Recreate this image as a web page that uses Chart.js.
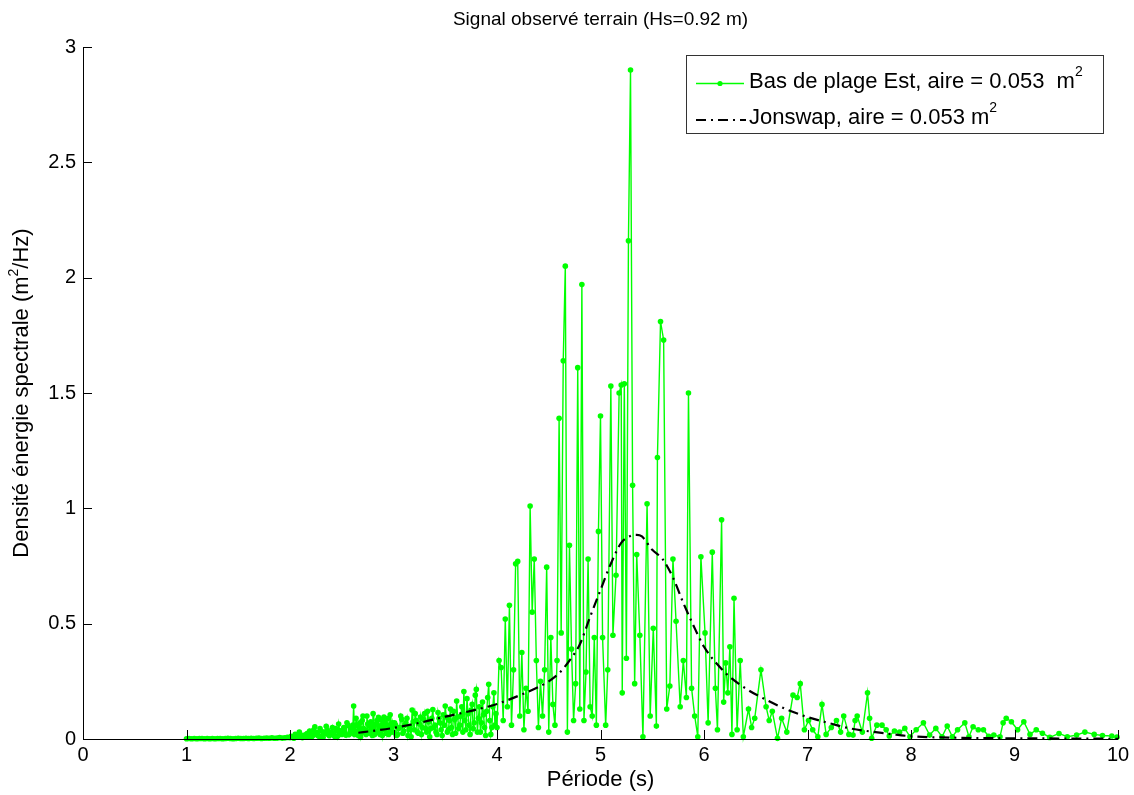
<!DOCTYPE html>
<html><head><meta charset="utf-8">
<script src="https://cdn.jsdelivr.net/npm/chart.js@4"></script>
<style>html,body{margin:0;padding:0;background:#fff}#wrap{width:1134px;height:795px;position:relative}</style>
</head><body><div id="wrap"><canvas id="c"></canvas></div>
<script>
const FONT = '"Liberation Sans", Arial, sans-serif';
const chartTitle = 'Signal observé terrain (Hs=0.92 m)';
const xAxisTitle = 'Période (s)';
const yAxisTitleParts = ['Densité énergie spectrale (m', '2', '/Hz)'];
const seriesNames = ['Bas de plage Est, aire = 0.053  m', 'Jonswap, aire = 0.053 m'];
const seriesSup = '2';
const xTickValues = [0,1,2,3,4,5,6,7,8,9,10];
const yTickValues = [0,0.5,1,1.5,2,2.5,3];

const obsPeriodA = [1.000,1.025,1.050,1.075,1.100,1.125,1.150,1.175,1.200,1.225,
  1.250,1.275,1.300,1.325,1.350,1.375,1.400,1.425,1.450,1.475,
  1.500,1.525,1.550,1.575,1.600,1.625,1.650,1.675,1.700,1.725,
  1.750,1.775,1.800,1.825,1.850,1.875,1.900,1.925,1.950,1.975];
const obsDensityA = [0.001,0.002,0.001,0.002,0.001,0.002,0.002,0.001,0.002,0.001,
  0.002,0.001,0.002,0.002,0.001,0.002,0.003,0.002,0.001,0.002,
  0.003,0.002,0.002,0.003,0.002,0.003,0.002,0.003,0.004,0.002,
  0.003,0.004,0.003,0.005,0.003,0.004,0.006,0.004,0.005,0.007];
const obsPeriodB = [2.00,2.02,2.04,2.06,2.08,2.10,2.12,2.14,2.16,2.18,
  2.20,2.22,2.24,2.26,2.28,2.30,2.32,2.34,2.36,2.38,
  2.40,2.42,2.44,2.46,2.48,2.50,2.52,2.54,2.56,2.58];
const obsDensityB = [0.006,0.010,0.004,0.014,0.008,0.018,0.006,0.012,0.022,0.009,
  0.022,0.015,0.053,0.028,0.012,0.035,0.008,0.024,0.040,0.014,
  0.030,0.018,0.045,0.012,0.036,0.020,0.050,0.016,0.060,0.025];
const obsPeriodB2 = [2.01,2.03,2.05,2.07,2.09,2.11,2.13,2.15,2.17,2.19,
  2.21,2.23,2.25,2.27,2.29,2.31,2.33,2.35,2.37,2.39,
  2.41,2.43,2.45,2.47,2.49,2.51,2.53,2.55,2.57,2.59];
const obsDensityB2 = [0.012,0.005,0.020,0.009,0.030,0.011,0.016,0.008,0.025,0.035,
  0.010,0.040,0.020,0.015,0.045,0.010,0.030,0.055,0.020,0.028,
  0.050,0.012,0.035,0.065,0.022,0.040,0.030,0.070,0.018,0.045];
const obsPeriodC = [2.600,2.615,2.630,2.645,2.660,2.675,2.690,2.705,2.720,2.735,
  2.750,2.765,2.780,2.795,2.810,2.825,2.840,2.855,2.870,2.885,
  2.900,2.915,2.930,2.945,2.960,2.975,2.990];
const obsDensityC = [0.040,0.143,0.030,0.060,0.015,0.070,0.025,0.100,0.040,0.020,
  0.065,0.030,0.075,0.015,0.050,0.035,0.080,0.094,0.020,0.060,
  0.040,0.075,0.025,0.089,0.045,0.030,0.070];
const obsPeriodC2 = [2.608,2.623,2.638,2.653,2.668,2.683,2.698,2.713,2.728,2.743,
  2.758,2.773,2.788,2.803,2.818,2.833,2.848,2.863,2.878,2.893,
  2.908,2.923,2.938,2.953,2.968,2.983];
const obsDensityC2 = [0.060,0.020,0.090,0.035,0.050,0.010,0.080,0.045,0.030,0.100,
  0.025,0.055,0.040,0.110,0.020,0.065,0.030,0.050,0.085,0.015,
  0.095,0.045,0.060,0.020,0.105,0.050];
const obsPeriodD = [3.00,3.02,3.04,3.06,3.08,3.10,3.12,3.14,3.16,3.18,
  3.20,3.22,3.24,3.26,3.28,3.30,3.32,3.34,3.36,3.38,
  3.40,3.42,3.44,3.46,3.48,3.50,3.52,3.54,3.56,3.58,
  3.60,3.62,3.64,3.66,3.68,3.70,3.72,3.74,3.76,3.78,
  3.80,3.82,3.84,3.86,3.88,3.90,3.92,3.94,3.96,3.98];
const obsDensityD = [0.030,0.060,0.020,0.050,0.085,0.035,0.070,0.015,0.055,0.126,
  0.040,0.080,0.025,0.095,0.050,0.110,0.030,0.075,0.045,0.128,
  0.060,0.020,0.090,0.040,0.105,0.143,0.030,0.080,0.050,0.120,
  0.025,0.095,0.060,0.140,0.206,0.040,0.110,0.020,0.150,0.070,
  0.215,0.090,0.030,0.160,0.050,0.120,0.237,0.020,0.140,0.060];
const obsPeriodD2 = [3.01,3.03,3.05,3.07,3.09,3.11,3.13,3.15,3.17,3.19,
  3.21,3.23,3.25,3.27,3.29,3.31,3.33,3.35,3.37,3.39,
  3.41,3.43,3.45,3.47,3.49,3.51,3.53,3.55,3.57,3.59,
  3.61,3.63,3.65,3.67,3.69,3.71,3.73,3.75,3.77,3.79,
  3.81,3.83,3.85,3.87,3.89,3.91,3.93,3.95,3.97,3.99];
const obsDensityD2 = [0.070,0.015,0.045,0.100,0.025,0.060,0.090,0.040,0.010,0.075,
  0.110,0.030,0.065,0.020,0.085,0.045,0.120,0.010,0.090,0.050,
  0.030,0.115,0.070,0.015,0.060,0.095,0.040,0.130,0.020,0.085,
  0.165,0.045,0.100,0.030,0.080,0.175,0.060,0.125,0.045,0.190,
  0.030,0.140,0.070,0.105,0.015,0.180,0.080,0.050,0.200,0.110];
const obsPeriodE = [4.00,4.02,4.04,4.06,4.08,4.10,4.12,4.14,4.16,4.18,
  4.20,4.22,4.24,4.26,4.28,4.30,4.32,4.34,4.36,4.38,
  4.40,4.42,4.44,4.46,4.48,4.50,4.52,4.54,4.56,4.58,
  4.60,4.62,4.64,4.66,4.68,4.70,4.72,4.74,4.76,4.78,
  4.80,4.82,4.84,4.86,4.88,4.90,4.92,4.94,4.96,4.98];
const obsDensityE = [0.05,0.34,0.31,0.08,0.52,0.14,0.58,0.06,0.30,0.76,
  0.77,0.10,0.375,0.04,0.22,0.12,1.01,0.55,0.78,0.34,
  0.05,0.25,0.10,0.30,0.745,0.03,0.44,0.15,0.06,0.34,
  1.39,0.46,1.64,2.05,0.03,0.84,0.39,0.08,0.24,1.61,
  0.13,1.97,0.08,0.29,0.78,0.14,0.10,0.44,0.06,0.90];
const obsPeriodF = [5.00,5.02,5.05,5.07,5.10,5.12,5.15,5.18,5.20,5.21,
  5.23,5.25,5.27,5.29,5.31,5.33,5.35,5.38,5.41,5.45,
  5.48,5.51,5.54,5.55,5.58,5.61,5.64,5.67,5.70,5.73,
  5.77,5.80,5.83,5.85,5.88,5.91,5.94,5.97];
const obsDensityF = [1.40,0.44,0.06,0.30,1.53,0.45,0.71,1.50,1.535,0.20,
  1.54,0.35,2.16,2.90,1.10,0.24,0.80,0.45,0.01,1.02,
  0.10,0.48,0.056,1.22,1.81,1.73,0.13,0.23,0.78,0.51,
  0.14,0.34,0.18,1.50,0.22,0.10,0.01,0.79];
const obsPeriodG = [6.01,6.04,6.08,6.11,6.13,6.17,6.19,6.21,6.23,6.25,
  6.27,6.29,6.32,6.35,6.38,6.43,6.46,6.49,6.55,6.60,
  6.63,6.66,6.71,6.75,6.80,6.86,6.90,6.93,6.97];
const obsDensityG = [0.46,0.07,0.81,0.22,0.04,0.95,0.16,0.33,0.20,0.40,
  0.02,0.61,0.04,0.34,0.01,0.13,0.05,0.09,0.30,0.14,
  0.08,0.12,0.003,0.09,0.03,0.19,0.18,0.24,0.04];
const obsPeriodH = [7.01,7.05,7.10,7.14,7.18,7.23,7.28,7.32,7.35,7.40,
  7.44,7.46,7.48,7.53,7.58,7.60,7.62,7.67,7.72,7.76,
  7.79,7.84,7.89,7.94,7.99];
const obsDensityH = [0.08,0.04,0.01,0.15,0.02,0.05,0.08,0.03,0.10,0.02,
  0.017,0.08,0.10,0.03,0.20,0.09,0.003,0.06,0.06,0.04,
  0.013,0.035,0.03,0.046,0.01];
const obsPeriodI = [8.05,8.12,8.18,8.24,8.30,8.35,8.40,8.45,8.52,8.56,
  8.60,8.65,8.70,8.75,8.80,8.86,8.89,8.92,8.97,9.03,
  9.09,9.15,9.21,9.27,9.34,9.43,9.51,9.60,9.68,9.77,
  9.85,9.94,9.99];
const obsDensityI = [0.04,0.07,0.017,0.046,0.01,0.056,0.01,0.04,0.07,0.01,
  0.053,0.04,0.04,0.012,0.017,0.01,0.07,0.09,0.075,0.04,
  0.075,0.02,0.04,0.025,0.007,0.024,0.01,0.017,0.03,0.02,
  0.015,0.013,0.008];

// JONSWAP fit
const jonswapPeriod = [2.66,2.8,3.0,3.25,3.5,3.75,4.0,4.25,4.4,4.5,
  4.6,4.7,4.8,4.9,5.0,5.1,5.2,5.3,5.35,5.4,
  5.5,5.6,5.7,5.8,5.9,6.0,6.2,6.4,6.6,6.8,
  7.0,7.2,7.4,7.6,7.8,8.0,8.5,9.0,9.5,10.0];
const jonswapDensity = [0.027,0.035,0.048,0.07,0.097,0.122,0.152,0.195,0.225,0.25,
  0.285,0.34,0.41,0.53,0.646,0.76,0.85,0.882,0.885,0.878,
  0.82,0.78,0.70,0.59,0.49,0.40,0.29,0.22,0.17,0.128,
  0.095,0.07,0.047,0.033,0.022,0.012,0.005,0.003,0.002,0.001];

const obsPeriod = [].concat(obsPeriodA,obsPeriodB,obsPeriodB2,obsPeriodC,obsPeriodC2,obsPeriodD,obsPeriodD2,obsPeriodE,obsPeriodF,obsPeriodG,obsPeriodH,obsPeriodI);
const obsDensity = [].concat(obsDensityA,obsDensityB,obsDensityB2,obsDensityC,obsDensityC2,obsDensityD,obsDensityD2,obsDensityE,obsDensityF,obsDensityG,obsDensityH,obsDensityI);
const obsPoints = obsPeriod.map((t,i)=>({x:t,y:obsDensity[i]})).sort((p,q)=>p.x-q.x);
const jonPoints = jonswapPeriod.map((t,i)=>({x:t,y:jonswapDensity[i]}));

const GREEN = '#00ff00';

function drawSup(ctx, parts, x, y, bigFont, smallFont, rise){
  let cx = x;
  parts.forEach((p,i)=>{
    const isSup = i % 2 === 1;
    ctx.font = isSup ? smallFont : bigFont;
    ctx.fillText(p, cx, isSup ? y - rise : y);
    cx += ctx.measureText(p).width;
  });
}
function partsWidth(ctx, parts, bigFont, smallFont){
  let w = 0;
  parts.forEach((p,i)=>{ ctx.font = (i%2===1)?smallFont:bigFont; w += ctx.measureText(p).width; });
  return w;
}

const decor = {
  id: 'decor',
  afterDraw(chart){
    const {ctx, chartArea:a, scales:{x, y}} = chart;
    ctx.save();
    ctx.strokeStyle = '#000'; ctx.lineWidth = 1;
    ctx.beginPath();
    ctx.moveTo(a.left+0.5, a.top); ctx.lineTo(a.left+0.5, a.bottom+0.5);
    ctx.lineTo(a.right, a.bottom+0.5);
    xTickValues.forEach(v=>{ const px = Math.round(x.getPixelForValue(v))+0.5; ctx.moveTo(px, a.bottom); ctx.lineTo(px, a.bottom-9); });
    yTickValues.forEach(v=>{ const py = Math.round(y.getPixelForValue(v))+0.5; ctx.moveTo(a.left, py); ctx.lineTo(a.left+9, py); });
    ctx.stroke();

    ctx.fillStyle = '#000';
    ctx.font = '19px ' + FONT; ctx.textAlign = 'center'; ctx.textBaseline = 'middle';
    ctx.fillText(chartTitle, (a.left+a.right)/2, 20);
    ctx.font = '22px ' + FONT;
    ctx.fillText(xAxisTitle, (a.left+a.right)/2, 780);
    const big = '22px ' + FONT, small = '14px ' + FONT;
    ctx.save();
    ctx.translate(22, (a.top+a.bottom)/2);
    ctx.rotate(-Math.PI/2);
    ctx.textAlign = 'left'; ctx.textBaseline = 'middle';
    const w = partsWidth(ctx, yAxisTitleParts, big, small);
    drawSup(ctx, yAxisTitleParts, -w/2, 0, big, small, 8);
    ctx.restore();

    const lx = 686, ly = 55, lw = 417, lh = 78;
    ctx.fillStyle = '#fff'; ctx.fillRect(lx, ly, lw, lh);
    ctx.strokeStyle = '#333'; ctx.lineWidth = 1;
    ctx.strokeRect(lx+0.5, ly+0.5, lw, lh);
    ctx.strokeStyle = GREEN; ctx.lineWidth = 1.3;
    ctx.beginPath(); ctx.moveTo(696, 83.5); ctx.lineTo(744, 83.5); ctx.stroke();
    ctx.fillStyle = GREEN; ctx.beginPath(); ctx.arc(720, 83.5, 2.6, 0, Math.PI*2); ctx.fill();
    ctx.fillStyle = '#000'; ctx.textAlign = 'left'; ctx.textBaseline = 'alphabetic';
    drawSup(ctx, [seriesNames[0], seriesSup], 749, 88, big, small, 12);
    ctx.strokeStyle = '#000'; ctx.lineWidth = 2;
    ctx.setLineDash([10,5,2,5]);
    ctx.beginPath(); ctx.moveTo(696, 120); ctx.lineTo(746, 120); ctx.stroke();
    ctx.setLineDash([]);
    drawSup(ctx, [seriesNames[1], seriesSup], 749, 124, big, small, 12);
    ctx.restore();
  }
};

new Chart(document.getElementById('c'), {
  type: 'scatter',
  data: {
    datasets: [
      { label: seriesNames[1], data: jonPoints, showLine: true, borderColor: '#000', borderWidth: 2.2,
        borderDash: [10,5,2,5], pointRadius: 0, cubicInterpolationMode: 'monotone', order: 0 },
      { label: seriesNames[0], data: obsPoints, showLine: true, borderColor: GREEN, backgroundColor: GREEN,
        borderWidth: 1.4, pointRadius: 2.8, pointBorderWidth: 0, pointStyle: 'circle', tension: 0, order: 1,
        clip: false }
    ]
  },
  options: {
    responsive: true, maintainAspectRatio: false, animation: false,
    layout: { padding: { top: 47, right: 16, left: 0, bottom: 0 } },
    plugins: { legend: { display: false }, title: { display: false }, tooltip: { enabled: false } },
    scales: {
      x: { type: 'linear', min: 0, max: 10,
        afterFit: s => { s.height = 56; },
        afterBuildTicks: s => { s.ticks = xTickValues.map(v=>({value:v})); },
        grid: { display: false, drawTicks: false }, border: { display: false },
        ticks: { color: '#000', padding: 4, font: { family: FONT, size: 20 }, maxRotation: 0, autoSkip: false,
          callback: v => String(v) } },
      y: { type: 'linear', min: 0, max: 3,
        afterFit: s => { s.width = 83; },
        afterBuildTicks: s => { s.ticks = yTickValues.map(v=>({value:v})); },
        grid: { display: false, drawTicks: false }, border: { display: false },
        ticks: { color: '#000', padding: 7, font: { family: FONT, size: 20 }, autoSkip: false,
          callback: v => String(v) } }
    }
  },
  plugins: [decor]
});
</script></body></html>
